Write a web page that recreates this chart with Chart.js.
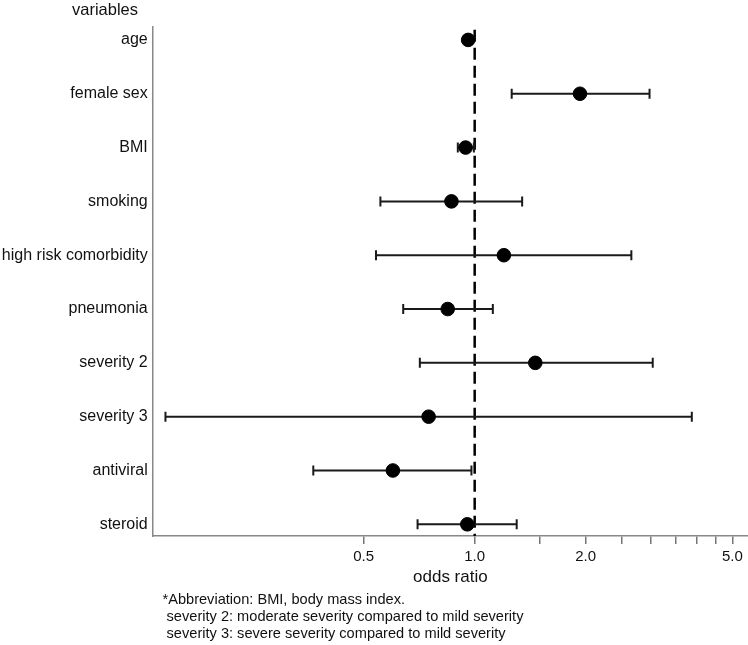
<!DOCTYPE html>
<html>
<head>
<meta charset="utf-8">
<script src="https://cdn.jsdelivr.net/npm/chart.js@4"></script>
<style>
  html, body { margin: 0; padding: 0; background: #fff; }
  #wrap { position: relative; width: 748px; height: 645px; font-family: "Liberation Sans", Arial, sans-serif; color: #111; }
  #c { position: absolute; left: 0; top: 0; }
  #vars { position: absolute; left: 72px; top: 1px; font-size: 16.5px; line-height: 16.5px; white-space: pre; }
  #foot { position: absolute; left: 162.5px; top: 591.4px; font-size: 14.6px; line-height: 17px; white-space: pre; }
</style>
</head>
<body>
<div id="wrap">
  <canvas id="c" width="748" height="645"></canvas>
  <div id="vars">variables</div>
  <div id="foot">*Abbreviation: BMI, body mass index.
 severity 2: moderate severity compared to mild severity
 severity 3: severe severity compared to mild severity</div>
</div>
<script>
const categories = ['age', 'female sex', 'BMI', 'smoking', 'high risk comorbidity', 'pneumonia', 'severity 2', 'severity 3', 'antiviral', 'steroid'];
const oddsRatio = [0.96, 1.93, 0.945, 0.865, 1.20, 0.845, 1.46, 0.75, 0.60, 0.955];
const ciLower   = [0.95, 1.26, 0.90, 0.555, 0.54, 0.64, 0.71, 0.145, 0.365, 0.70];
const ciUpper   = [0.98, 2.98, 0.995, 1.345, 2.66, 1.12, 3.04, 3.88, 0.98, 1.30];
const xTickValues = [0.5, 1.0, 1.5, 2.0, 2.5, 3.0, 3.5, 4.0, 4.5, 5.0];
const xTickLabels = ['0.5', '1.0', '', '2.0', '', '', '', '', '', '5.0'];
const referenceOR = 1.0;

const Y_MIN = -0.24, Y_MAX = 9.217;
const X_MIN = 0.1339, X_MAX = 5.511;

const datasets = [];
datasets.push({
  type: 'line',
  data: [{x: referenceOR, y: Y_MIN + 0.05}, {x: referenceOR, y: Y_MAX}],
  borderColor: '#000',
  borderWidth: 2.5,
  borderDash: [12, 6],
  pointRadius: 0,
  order: 3
});
categories.forEach((c, i) => {
  datasets.push({
    type: 'line',
    data: [{x: ciLower[i], y: i}, {x: ciUpper[i], y: i}],
    borderColor: '#1a1a1a',
    borderWidth: 2,
    pointStyle: 'line',
    rotation: 90,
    pointRadius: 5,
    pointBorderWidth: 2,
    pointBorderColor: '#1a1a1a',
    order: 2
  });
});
datasets.push({
  type: 'scatter',
  data: categories.map((c, i) => ({x: oddsRatio[i], y: i})),
  backgroundColor: '#000',
  borderColor: '#000',
  pointRadius: 6.8,
  order: 1
});

new Chart(document.getElementById('c'), {
  data: { datasets },
  options: {
    responsive: false,
    animation: false,
    events: [],
    layout: { autoPadding: false, padding: { left: 0, right: 0, top: 27, bottom: 53.8 } },
    plugins: { legend: { display: false }, tooltip: { enabled: false } },
    scales: {
      x: {
        type: 'logarithmic',
        min: X_MIN,
        max: X_MAX,
        afterBuildTicks: (s) => { s.ticks = xTickValues.map(v => ({ value: v })); },
        afterFit: (s) => { s.height = 55.2; s.paddingRight = 0; s.paddingLeft = 0; },
        ticks: {
          autoSkip: false,
          maxRotation: 0,
          padding: 4,
          color: '#111',
          font: { family: '"Liberation Sans", Arial, sans-serif', size: 15 },
          callback: (v, i) => xTickLabels[i]
        },
        grid: { drawOnChartArea: false, drawTicks: true, tickLength: 8, tickColor: '#777', lineWidth: 1.5 },
        border: { display: true, color: '#888', width: 1.5 },
        title: {
          display: true,
          text: 'odds ratio',
          color: '#111',
          padding: { top: 4, bottom: 4 },
          font: { family: '"Liberation Sans", Arial, sans-serif', size: 17 }
        }
      },
      y: {
        type: 'linear',
        reverse: true,
        min: Y_MIN,
        max: Y_MAX,
        afterBuildTicks: (s) => { s.ticks = categories.map((c, i) => ({ value: i })); },
        afterFit: (s) => { s.width = 152.7; s.paddingTop = 0; s.paddingBottom = 0; },
        ticks: {
          autoSkip: false,
          padding: 5,
          color: '#111',
          font: { family: '"Liberation Sans", Arial, sans-serif', size: 16 },
          callback: (v) => categories[Math.round(v)]
        },
        grid: { drawOnChartArea: false, drawTicks: false },
        border: { display: true, color: '#888', width: 1.5 }
      }
    }
  }
});
</script>
</body>
</html>
